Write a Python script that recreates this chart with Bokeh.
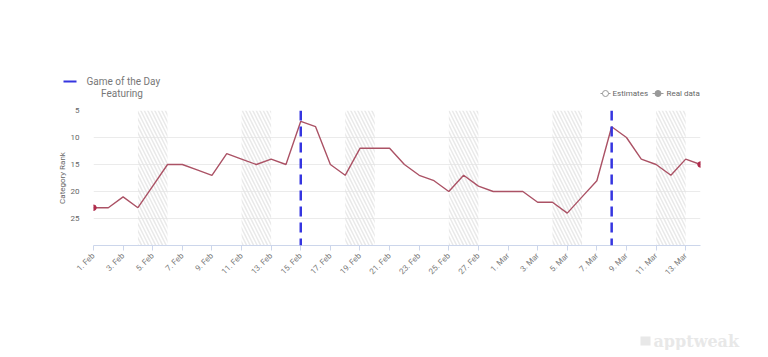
import math
from bokeh.plotting import figure
from bokeh.models import Range1d, FixedTicker, Span
from bokeh.layouts import column
from bokeh.core.properties import value
from bokeh.embed import file_html
from bokeh.resources import INLINE

# ---------------- data ----------------
dates = ["1. Feb", "2. Feb", "3. Feb", "4. Feb", "5. Feb", "6. Feb", "7. Feb",
         "8. Feb", "9. Feb", "10. Feb", "11. Feb", "12. Feb", "13. Feb", "14. Feb",
         "15. Feb", "16. Feb", "17. Feb", "18. Feb", "19. Feb", "20. Feb", "21. Feb",
         "22. Feb", "23. Feb", "24. Feb", "25. Feb", "26. Feb", "27. Feb", "28. Feb",
         "1. Mar", "2. Mar", "3. Mar", "4. Mar", "5. Mar", "6. Mar", "7. Mar",
         "8. Mar", "9. Mar", "10. Mar", "11. Mar", "12. Mar", "13. Mar", "14. Mar"]
ranks = [23, 23, 21, 23, 19, 15, 15, 16, 17, 13, 14, 15, 14, 15, 7, 8, 15, 17, 12, 12, 12,
         15, 17, 18, 20, 17, 19, 20, 20, 20, 22, 22, 24, 21, 18, 8, 10, 14, 15, 17, 14, 15]
featuring_days = ["15. Feb", "8. Mar"]
weekend_start = ["4. Feb", "11. Feb", "18. Feb", "25. Feb", "4. Mar", "11. Mar"]
weekend_end = ["6. Feb", "13. Feb", "20. Feb", "27. Feb", "6. Mar", "13. Mar"]
y_ticks = [5, 10, 15, 20, 25]
tick_labels = dates[::2]
legend_left = ["Game of the Day", "Featuring"]
legend_right = ["Estimates", "Real data"]
watermark = "apptweak"

FONT = "Roboto"
GREY = "#666666"
W = 760

xs = list(range(len(dates)))
idx = {d: i for i, d in enumerate(dates)}


def blank(height):
    f = figure(width=W, height=height, output_backend="svg", toolbar_location=None,
               x_range=Range1d(0, W), y_range=Range1d(height, 0),
               x_axis_type=None, y_axis_type=None, min_border=0)
    f.outline_line_color = None
    f.grid.visible = False
    try:
        f.frame_align = False
    except Exception:
        pass
    return f


# ---------------- legend strip (page y 0..100) ----------------
top = blank(100)
top.line([63, 76], [81, 81], line_color="#3535e0", line_width=2)
top.text([86], [81], text=[legend_left[0]], text_font=value(FONT), text_font_size="10px",
         text_color="#777777", text_baseline="middle")
top.text([121.5], [93], text=[legend_left[1]], text_font=value(FONT), text_font_size="10px",
         text_color="#777777", text_baseline="middle", text_align="center")
top.line([600, 610], [93, 93], line_color="#999999", line_width=1)
top.scatter([605], [93], size=6, fill_color="white", line_color="#999999", line_width=1)
top.text([612], [93], text=[legend_right[0]], text_font=value(FONT), text_font_size="8px",
         text_color=GREY, text_baseline="middle")
top.line([652, 663], [93, 93], line_color="#999999", line_width=1)
top.scatter([657.5], [93], size=6, fill_color="#999999", line_color="#999999")
top.text([666], [93], text=[legend_right[1]], text_font=value(FONT), text_font_size="8px",
         text_color=GREY, text_baseline="middle")

# ---------------- main chart (page y 100..300) ----------------
p = figure(width=W, height=200, output_backend="svg", toolbar_location=None,
           x_range=Range1d(0, len(dates) - 1), y_range=Range1d(30, 5),
           min_border_left=93, min_border_right=W - 700, min_border_top=10,
           min_border_bottom=55)
p.outline_line_color = None
try:
    p.frame_align = False
except Exception:
    pass

p.quad(left=[idx[d] for d in weekend_start], right=[idx[d] for d in weekend_end],
       top=5, bottom=30, fill_alpha=0, line_alpha=0,
       hatch_pattern="\\", hatch_color="#e2e2e2", hatch_alpha=0.75,
       hatch_scale=7, hatch_weight=1.5)

for d in featuring_days:
    p.add_layout(Span(location=idx[d], dimension="height", line_color="#3535e0",
                      line_width=2.5, line_dash="10 6"))

p.line(xs, ranks, line_color="#ab5265", line_width=1.4)
p.scatter([xs[0], xs[-1]], [ranks[0], ranks[-1]], size=5.5, color="#b02c4c")

p.xgrid.grid_line_color = None
p.ygrid.ticker = FixedTicker(ticks=y_ticks)
p.ygrid.grid_line_color = "#ebebeb"

p.yaxis.ticker = FixedTicker(ticks=y_ticks)
p.yaxis.axis_line_color = None
p.yaxis.major_tick_line_color = None
p.yaxis.minor_tick_line_color = None
p.yaxis.major_label_text_color = GREY
p.yaxis.major_label_text_font = FONT
p.yaxis.major_label_text_font_size = "8px"
p.yaxis.major_label_standoff = 8
p.yaxis.axis_label = "Category Rank"
p.yaxis.axis_label_text_font = FONT
p.yaxis.axis_label_text_font_size = "8px"
p.yaxis.axis_label_text_font_style = "normal"
p.yaxis.axis_label_text_color = GREY
p.yaxis.axis_label_standoff = 1

tick_pos = [idx[t] for t in tick_labels]
p.xaxis.ticker = FixedTicker(ticks=tick_pos)
p.xaxis.major_label_overrides = {i: t for i, t in zip(tick_pos, tick_labels)}
p.xaxis.major_label_orientation = math.pi / 4
p.xaxis.axis_line_color = "#ccd6eb"
p.xaxis.major_tick_line_color = "#ccd6eb"
p.xaxis.major_tick_in = 0
p.xaxis.major_tick_out = 5
p.xaxis.minor_tick_line_color = None
p.xaxis.major_label_text_color = "#777777"
p.xaxis.major_label_text_font = FONT
p.xaxis.major_label_text_font_size = "8px"
p.xaxis.major_label_standoff = 4

# ---------------- watermark strip (page y 300..350) ----------------
bot = blank(50)
bot.text([653], [41], text=[watermark], text_font=value("DejaVu Serif"),
         text_font_size="16px", text_font_style="bold", text_color="#e8e8e8",
         text_baseline="middle")
bot.quad(left=[640], right=[650], top=[36], bottom=[45], fill_color="#e8e8e8",
         line_color=None)

open("out.html", "w").write(file_html(column(top, p, bot), INLINE))
